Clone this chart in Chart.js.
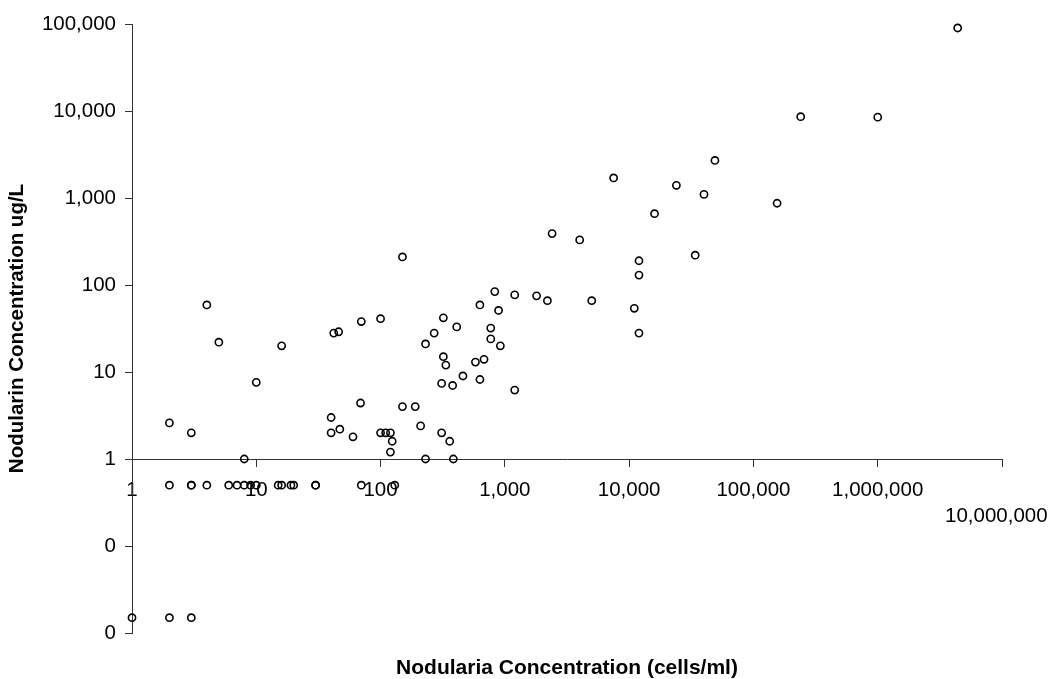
<!DOCTYPE html>
<html>
<head>
<meta charset="utf-8">
<script src="https://cdn.jsdelivr.net/npm/chart.js@4.4.1/dist/chart.umd.min.js"></script>
<style>
html,body{margin:0;padding:0;background:#ffffff;}
#wrap{width:1052px;height:679px;}
</style>
</head>
<body>
<div id="wrap"><canvas id="c" width="1052" height="679"></canvas></div>
<script>
// Nodularia cell counts (cells/ml) and matching nodularin concentrations (ug/L)
const cellsPerMl = [
  4400000, 240000, 1000000, 49000, 7500, 24000, 40000, 155000, 16000, 2400,
  4000, 34000, 12000, 150, 12000, 830, 1200, 1800, 2200, 5000,
  11000, 630, 890, 320, 410, 270, 770, 230, 770, 920,
  12000, 320, 335, 580, 680, 460, 630, 310, 380, 1200,
  4, 5, 16, 10, 42, 46, 70, 100, 69, 150,
  190, 2, 3, 40, 40, 47, 60, 100, 110, 120,
  124, 120, 210, 8, 230, 310, 360, 385,
  2, 3, 3, 4, 6, 7, 8, 9, 10, 15, 16, 19, 20, 30, 30, 70, 130,
  1, 2, 3
];
const nodularinUgL = [
  90000, 8600, 8500, 2700, 1700, 1400, 1100, 870, 660, 390,
  330, 220, 190, 210, 130, 84, 77, 75, 66, 66,
  54, 59, 51, 42, 33, 28, 32, 21, 24, 20,
  28, 15, 12, 13, 14, 9, 8.2, 7.4, 7, 6.2,
  59, 22, 20, 7.6, 28, 29, 38, 41, 4.4, 4,
  4, 2.6, 2, 3, 2, 2.2, 1.8, 2, 2, 2,
  1.6, 1.2, 2.4, 1, 1, 2, 1.6, 1,
  0.5, 0.5, 0.5, 0.5, 0.5, 0.5, 0.5, 0.5, 0.5, 0.5, 0.5, 0.5, 0.5, 0.5, 0.5, 0.5, 0.5,
  0.015, 0.015, 0.015
];
const xTickValues = [1, 10, 100, 1000, 10000, 100000, 1000000, 10000000];
const xTickLabels = ['1', '10', '100', '1,000', '10,000', '100,000', '1,000,000', '10,000,000'];
const yTickValues = [0.01, 0.1, 1, 10, 100, 1000, 10000, 100000];
const yTickLabels = ['0', '0', '1', '10', '100', '1,000', '10,000', '100,000'];
const xTitle = 'Nodularia Concentration (cells/ml)';
const yTitle = 'Nodularin Concentration ug/L';

const FONT = "'Liberation Sans', Arial, Helvetica, sans-serif";
const AXIS = '#333333';

const points = cellsPerMl.map((x, i) => ({ x: x, y: nodularinUgL[i] }));

new Chart(document.getElementById('c'), {
  type: 'scatter',
  data: {
    datasets: [{
      data: points,
      pointStyle: 'circle',
      pointRadius: 3.6,
      pointHoverRadius: 3.6,
      pointBorderWidth: 1.6,
      borderColor: '#000000',
      backgroundColor: 'rgba(0,0,0,0)',
      clip: false
    }]
  },
  options: {
    responsive: false,
    animation: false,
    devicePixelRatio: 1,
    layout: { padding: { top: 24, right: 50, bottom: 0, left: 0 } },
    plugins: {
      legend: { display: false },
      tooltip: { enabled: false },
      title: {
        display: true,
        position: 'bottom',
        fullSize: false,
        text: xTitle,
        color: '#000000',
        font: { family: FONT, size: 21, weight: 'bold', lineHeight: 1 },
        padding: { top: 25, bottom: 0 }
      }
    },
    scales: {
      x: {
        type: 'logarithmic',
        position: { y: 1 },
        min: 1,
        max: 10000000,
        afterBuildTicks: (s) => { s.ticks = xTickValues.map(v => ({ value: v })); },
        afterFit: (s) => { s.paddingLeft = 0; s.paddingRight = 0; },
        ticks: {
          autoSkip: false,
          maxRotation: 0,
          minRotation: 0,
          padding: 11.5,
          color: '#000000',
          font: { family: FONT, size: 20.5, lineHeight: 1.25 },
          callback: (v, i) => (i === xTickLabels.length - 1 ? ['', xTickLabels[i] + '\u00a0\u00a0'] : xTickLabels[i])
        },
        grid: { drawOnChartArea: false, drawTicks: true, tickLength: 7, color: AXIS, lineWidth: 1 },
        border: { display: true, color: AXIS, width: 1 },
        title: { display: false }
      },
      y: {
        type: 'logarithmic',
        position: 'left',
        min: 0.01,
        max: 100000,
        afterBuildTicks: (s) => { s.ticks = yTickValues.map(v => ({ value: v })); },
        afterFit: (s) => { s.width = 132; },
        ticks: {
          autoSkip: false,
          padding: 9,
          color: '#000000',
          font: { family: FONT, size: 20.5 },
          callback: (v, i) => yTickLabels[i]
        },
        grid: { drawOnChartArea: false, drawTicks: true, tickLength: 7, color: AXIS, lineWidth: 1 },
        border: { display: true, color: AXIS, width: 1 },
        title: {
          display: true,
          text: yTitle,
          color: '#000000',
          font: { family: FONT, size: 20.5, weight: 'bold', lineHeight: 1.2 },
          padding: { top: 5, bottom: 0 }
        }
      }
    }
  }
});
</script>
</body>
</html>
